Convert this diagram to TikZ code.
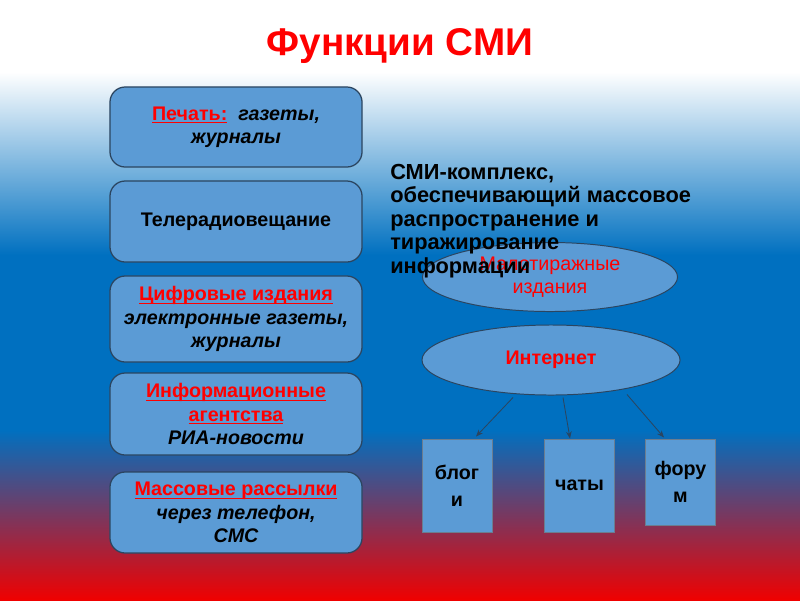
\documentclass[tikz,border=0pt]{standalone}
\usepackage{fontspec}
\setmainfont{Liberation Sans}
\usetikzlibrary{shapes.geometric,arrows.meta,calc}

\definecolor{boxblue}{HTML}{5B9BD5}
\definecolor{flagblue}{HTML}{0070C0}
\definecolor{flagred}{HTML}{F00000}
\definecolor{edgedark}{HTML}{2B4560}
\definecolor{txtred}{HTML}{FF0000}

\newcommand{\redu}[1]{\textcolor{txtred}{\underline{\raisebox{0pt}[\height][0pt]{#1}}}}

\tikzset{
  smibox/.style={draw=edgedark, line width=0.9pt, fill=boxblue, rounded corners=0.38cm,
    minimum width=6.3cm, align=center, font=\fontsize{14}{16.5}\selectfont\bfseries},
  oval/.style={ellipse, draw=edgedark, line width=0.7pt, fill=boxblue, inner sep=0pt,
    align=center, text=txtred},
  leaf/.style={rectangle, draw=edgedark!70, line width=0.7pt, fill=boxblue,
    minimum width=1.75cm, align=center, font=\fontsize{14}{19}\selectfont\bfseries},
  link/.style={draw=edgedark, line width=0.6pt, -{Stealth[length=5pt,width=4pt]}},
}

\begin{document}
\begin{tikzpicture}[x=0.025cm, y=-0.025cm]
    \useasboundingbox (0,0) rectangle (800,600);

    % background in flag colours
    \fill[white] (0,0) rectangle (800,72);
    \shade[top color=white, bottom color=flagblue] (0,72) rectangle (800,255);
    \fill[flagblue] (0,255) rectangle (800,430);
    \shade[top color=flagblue, bottom color=flagred] (0,430) rectangle (800,600);

    \node[font=\fontsize{27.5}{30}\selectfont\bfseries, text=txtred] (title) at (400,46) {Функции СМИ};

    % left column
    \node[smibox, minimum height=2cm] (pechat) at (236,127)
        {\redu{Печать:}\ \ \itshape газеты,\\\itshape журналы};
    \node[smibox, minimum height=2.025cm] (tv) at (236,221.5) {Телерадиовещание};
    \node[smibox, minimum height=2.15cm] (digital) at (236,319)
        {\redu{Цифровые издания}\\\itshape электронные газеты,\\\itshape журналы};
    \node[smibox, minimum height=2.05cm] (agency) at (236,414)
        {\redu{Информационные}\\\redu{агентства}\\\itshape РИА-новости};
    \node[smibox, minimum height=2.025cm] (mail) at (236,512.5)
        {\redu{Массовые рассылки}\\\itshape через телефон,\\\itshape СМС};

    % right side
    \node[oval, minimum width=6.375cm, minimum height=1.725cm,
          font=\fontsize{14}{16.5}\selectfont] (small) at (550,277) {Малотиражные\\издания};
    \node[anchor=north west, inner sep=0pt, align=left,
          font=\fontsize{15.5}{16.7}\selectfont\bfseries] (def) at (390,164)
        {СМИ-комплекс,\\обеспечивающий массовое\\распространение и\\тиражирование\\информации};
    \node[oval, minimum width=6.45cm, minimum height=1.75cm,
          font=\fontsize{14}{16.5}\selectfont\bfseries] (inet) at (551,360) {Интернет};

    \node[leaf, minimum height=2.325cm] (blogs) at (457,485.5) {блог\\и};
    \node[leaf, minimum height=2.325cm] (chats) at (579.5,485.5) {чаты};
    \node[leaf, minimum height=2.15cm] (forum) at (680.5,482) {фору\\м};

    \draw[link] ($(inet.south)+(-38,2)$) -- ($(blogs.north)+(19,-2)$);
    \draw[link] ($(inet.south)+(12,2)$) -- ($(chats.north)+(-9.5,0)$);
    \draw[link] ($(inet.south)+(76,-1)$) -- ($(forum.north)+(-16.5,-1)$);
\end{tikzpicture}
\end{document}
